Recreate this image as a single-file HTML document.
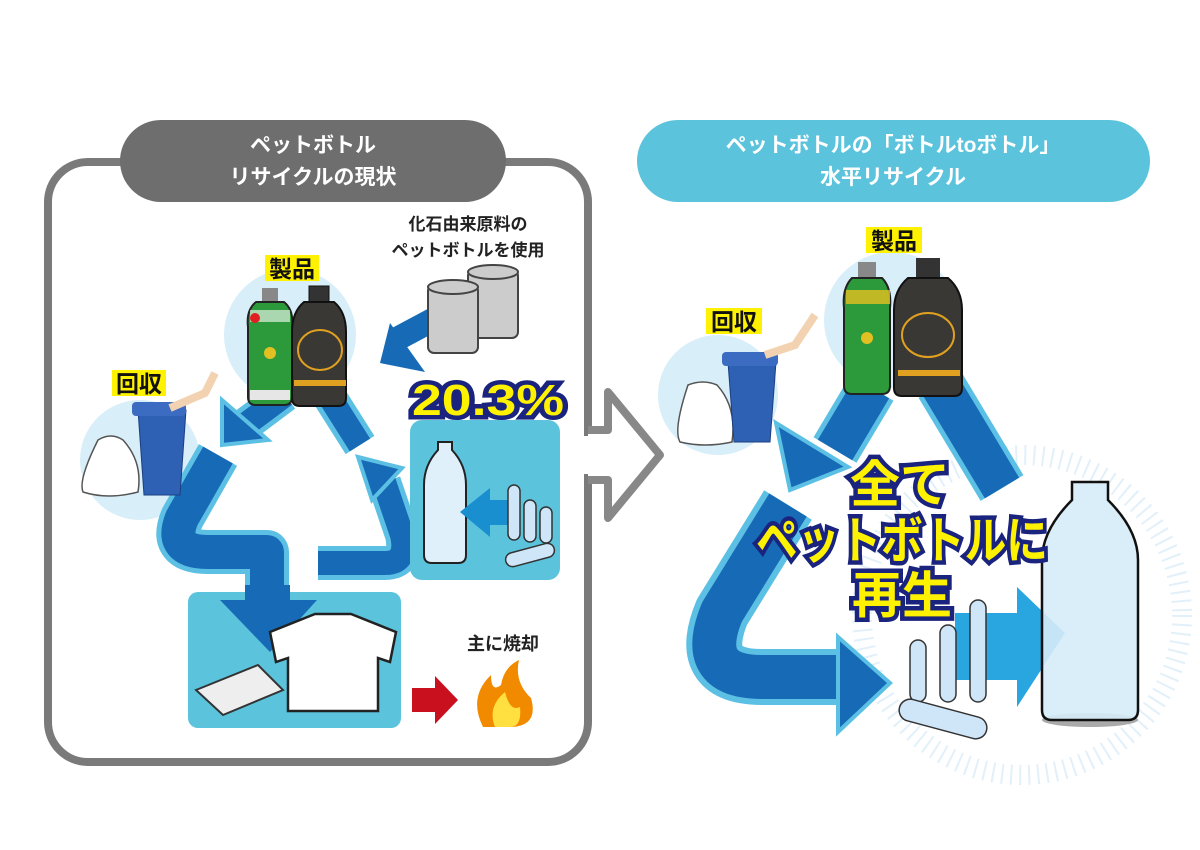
<!DOCTYPE html>
<html><head><meta charset="utf-8"><style>
html,body{margin:0;padding:0;background:#fff;}
svg{display:block}
text{font-family:"Liberation Sans","Noto Sans CJK JP",sans-serif;font-weight:bold}
</style></head><body>
<svg width="1200" height="850" viewBox="0 0 1200 850">
<rect x="48" y="162" width="540" height="600" rx="40" fill="none" stroke="#7a7a7a" stroke-width="8"/>
<rect x="120" y="120" width="386" height="82" rx="41" fill="#6e6e6e"/>
<text x="313" y="152" font-size="21" fill="#fff" text-anchor="middle">ペットボトル</text>
<text x="313" y="184" font-size="21" fill="#fff" text-anchor="middle">リサイクルの現状</text>
<rect x="637" y="120" width="513" height="82" rx="41" fill="#5bc3dc"/>
<text x="893" y="152" font-size="21" fill="#fff" text-anchor="middle">ペットボトルの「ボトルtoボトル」</text>
<text x="893" y="184" font-size="21" fill="#fff" text-anchor="middle">水平リサイクル</text>
<path d="M588,430 L608,430 L608,392 L660,455 L608,518 L608,480 L588,480" fill="#fff" stroke="#888" stroke-width="8" stroke-linejoin="round"/>
<rect x="578" y="436" width="20" height="38" fill="#fff"/>

<circle cx="290" cy="335" r="66" fill="#d8eef9"/>
<circle cx="140" cy="460" r="60" fill="#d8eef9"/>
<g fill="none" stroke-linecap="butt" stroke-linejoin="round">
<path d="M218,455 L182,518 Q168,552 208,552 L267,552 L267,600" stroke="#5cc0e4" stroke-width="44"/>
<path d="M218,455 L182,518 Q168,552 208,552 L267,552 L267,600" stroke="#176bb6" stroke-width="34"/>
<path d="M318,563 L385,563 Q408,563 402,535 L384,482" stroke="#5cc0e4" stroke-width="34"/>
<path d="M318,563 L385,563 Q408,563 402,535 L384,482" stroke="#176bb6" stroke-width="24"/>
<path d="M322,385 L360,445" stroke="#5cc0e4" stroke-width="34"/>
<path d="M322,385 L360,445" stroke="#176bb6" stroke-width="24"/>
<path d="M285,395 L245,425" stroke="#5cc0e4" stroke-width="34"/>
<path d="M285,395 L245,425" stroke="#176bb6" stroke-width="24"/>
<path d="M440,316 L395,340" stroke="#176bb6" stroke-width="24"/>
</g>
<rect x="188" y="592" width="213" height="136" rx="10" fill="#5bc3dc"/>
<rect x="245" y="585" width="45" height="20" fill="#176bb6"/>
<polygon points="220,600 317,600 270,652" fill="#176bb6"/>
<polygon points="222,445 222,400 268,440" fill="#176bb6" stroke="#5cc0e4" stroke-width="4"/>
<polygon points="358,457 402,468 372,500" fill="#176bb6" stroke="#5cc0e4" stroke-width="4"/>
<polygon points="380,363 390,323 425,372" fill="#176bb6"/>
<rect x="262" y="288" width="16" height="14" fill="#888"/>
<path d="M256,302 h28 q10,8 8,25 v70 q0,8 -8,8 h-28 q-8,0 -8,-8 v-70 q-2,-17 8,-25z" fill="#2c9a3a" stroke="#222" stroke-width="2"/>
<rect x="250" y="310" width="40" height="12" fill="#fff" opacity=".6"/>
<rect x="250" y="390" width="40" height="10" fill="#e6e6e6"/>
<circle cx="270" cy="353" r="6" fill="#e2c022"/>
<circle cx="255" cy="318" r="5" fill="#e02020"/>
<rect x="309" y="286" width="20" height="16" fill="#333" stroke="#111"/>
<path d="M304,302 h30 q12,10 12,30 v66 q0,8 -8,8 h-38 q-8,0 -8,-8 v-66 q0,-20 12,-30z" fill="#3a3835" stroke="#111" stroke-width="2"/>
<ellipse cx="320" cy="350" rx="22" ry="20" fill="none" stroke="#e0a020" stroke-width="2"/>
<rect x="294" y="380" width="52" height="6" fill="#e0a020"/>
<path d="M98,440 q-20,40 -15,52 q25,8 55,0 q5,-30 -15,-52 q-12,-8 -25,0z" fill="#fff" stroke="#555" stroke-width="1.5"/>
<path d="M138,410 h48 l-6,85 h-36z" fill="#2e61b4" stroke="#1c3f80"/>
<rect x="132" y="402" width="54" height="14" rx="4" fill="#3b6cc2"/>
<path d="M170,408 l35,-15 l10,-20" stroke="#f2d2b0" stroke-width="8" fill="none"/>
<rect x="265" y="255" width="54" height="26" fill="#fff200"/>
<text x="292" y="277" font-size="23" text-anchor="middle" fill="#111">製品</text>
<rect x="112" y="370" width="54" height="26" fill="#fff200"/>
<text x="139" y="392" font-size="23" text-anchor="middle" fill="#111">回収</text>
<text x="468" y="230" font-size="17" text-anchor="middle" fill="#222">化石由来原料の</text>
<text x="468" y="256" font-size="17" text-anchor="middle" fill="#222">ペットボトルを使用</text>
<g fill="#ccc" stroke="#444" stroke-width="2">
<rect x="468" y="270" width="50" height="68" rx="6"/><ellipse cx="493" cy="272" rx="25" ry="7"/>
<rect x="428" y="285" width="50" height="68" rx="6"/><ellipse cx="453" cy="287" rx="25" ry="7"/>
</g>
<rect x="410" y="420" width="150" height="160" rx="12" fill="#5bc3dc"/>
<text x="412" y="415" font-size="44" textLength="152" lengthAdjust="spacingAndGlyphs" fill="#fff200" stroke="#1a237e" stroke-width="9" paint-order="stroke">20.3%</text>
<path d="M438,450 v-8 h14 v8 q14,15 14,35 v70 q0,8 -8,8 h-26 q-8,0 -8,-8 v-70 q0,-20 14,-35z" fill="#dff0fb" stroke="#222" stroke-width="2"/>
<polygon points="460,512 490,488 490,500 515,500 515,525 490,525 490,537" fill="#1a8fd0"/>
<g fill="#cfe6f8" stroke="#333" stroke-width="1.5">
<rect x="508" y="485" width="12" height="55" rx="6"/><rect x="524" y="500" width="12" height="42" rx="6"/><rect x="540" y="507" width="12" height="36" rx="6"/>
<rect x="505" y="548" width="50" height="14" rx="7" transform="rotate(-15 530 555)"/>
</g>
<path d="M270,632 l45,-18 h36 l45,18 l-6,30 l-12,-4 v53 h-90 v-53 l-12,4z" fill="#fff" stroke="#222" stroke-width="2.5"/>
<path d="M196,690 l62,-25 l25,25 l-60,25z" fill="#eee" stroke="#333" stroke-width="2"/>
<polygon points="412,688 435,688 435,676 458,700 435,724 435,712 412,712" fill="#c8101e"/>
<text x="503" y="650" font-size="18" text-anchor="middle" fill="#222">主に焼却</text>
<path d="M483,727 q-15,-30 8,-52 q0,18 10,10 q3,-18 18,-25 q-5,22 12,38 q8,28 -20,29z" fill="#f28a00"/>
<path d="M495,727 q-8,-20 10,-35 q5,20 15,15 q2,20 -10,20z" fill="#ffe040"/>

<circle cx="1022" cy="615" r="160" fill="none" stroke="#e2f0fa" stroke-width="20" stroke-dasharray="2 7"/>
<circle cx="892" cy="320" r="68" fill="#d8eef9"/>
<circle cx="718" cy="395" r="60" fill="#d8eef9"/>
<g fill="none" stroke-linejoin="round">
<path d="M940,385 L1002,488" stroke="#5cc0e4" stroke-width="50"/>
<path d="M940,385 L1002,488" stroke="#176bb6" stroke-width="40"/>
<path d="M872,388 L835,450" stroke="#5cc0e4" stroke-width="50"/>
<path d="M872,388 L835,450" stroke="#176bb6" stroke-width="40"/>
<path d="M788,505 L722,612 Q695,677 762,677 L845,677" stroke="#5cc0e4" stroke-width="56"/>
<path d="M788,505 L722,612 Q695,677 762,677 L845,677" stroke="#176bb6" stroke-width="44"/>
</g>
<polygon points="776,423 790,490 848,467" fill="#176bb6" stroke="#5cc0e4" stroke-width="4"/>
<polygon points="838,637 890,683 838,732" fill="#176bb6" stroke="#5cc0e4" stroke-width="4"/>
<rect x="858" y="262" width="18" height="16" fill="#888"/>
<path d="M852,278 h30 q10,10 8,30 v78 q0,8 -8,8 h-30 q-8,0 -8,-8 v-78 q-2,-20 8,-30z" fill="#2c9a3a" stroke="#222" stroke-width="2"/>
<rect x="846" y="290" width="44" height="14" fill="#e6c020" opacity=".8"/>
<circle cx="867" cy="338" r="6" fill="#e2c022"/>
<rect x="916" y="258" width="24" height="20" fill="#333"/>
<path d="M908,278 h40 q14,12 14,32 v78 q0,8 -8,8 h-52 q-8,0 -8,-8 v-78 q0,-20 14,-32z" fill="#3a3835" stroke="#111" stroke-width="2"/>
<ellipse cx="928" cy="335" rx="26" ry="22" fill="none" stroke="#e0a020" stroke-width="2"/>
<rect x="898" y="370" width="62" height="6" fill="#e0a020"/>
<path d="M688,385 q-15,45 -8,57 q25,6 52,0 q5,-35 -15,-57 q-14,-6 -29,0z" fill="#fff" stroke="#555" stroke-width="1.5"/>
<path d="M728,362 h48 l-6,80 h-36z" fill="#2e61b4" stroke="#1c3f80"/>
<rect x="722" y="352" width="56" height="14" rx="4" fill="#3b6cc2"/>
<path d="M765,355 l30,-10 l20,-30" stroke="#f2d2b0" stroke-width="8" fill="none"/>
<rect x="866" y="227" width="56" height="26" fill="#fff200"/>
<text x="894" y="249" font-size="23" text-anchor="middle" fill="#111">製品</text>
<rect x="706" y="308" width="56" height="26" fill="#fff200"/>
<text x="734" y="330" font-size="23" text-anchor="middle" fill="#111">回収</text>
<polygon points="955,613 1017,613 1017,587 1065,633 1017,707 1017,680 955,680" fill="#29a6e0"/>
<ellipse cx="1090" cy="720" rx="48" ry="7" fill="#aaa"/>
<path d="M1072,482 h36 v18 q30,30 30,60 v150 q0,10 -10,10 h-76 q-10,0 -10,-10 v-150 q0,-30 30,-60z" fill="#d6ecfa" fill-opacity=".9" stroke="#111" stroke-width="2.5"/>
<g fill="#cfe6f8" stroke="#333" stroke-width="1.5">
<rect x="910" y="640" width="16" height="62" rx="8"/><rect x="940" y="625" width="16" height="77" rx="8"/><rect x="970" y="600" width="16" height="102" rx="8"/>
<rect x="898" y="708" width="90" height="22" rx="11" transform="rotate(15 943 719)"/>
</g>
<g font-size="50" text-anchor="middle" fill="#fff200" stroke="#1a237e" stroke-width="9" paint-order="stroke">
<text x="900" y="502">全て</text>
<text x="902" y="558" textLength="292" lengthAdjust="spacingAndGlyphs">ペットボトルに</text>
<text x="902" y="613">再生</text>
</g>
</svg>
</body></html>
